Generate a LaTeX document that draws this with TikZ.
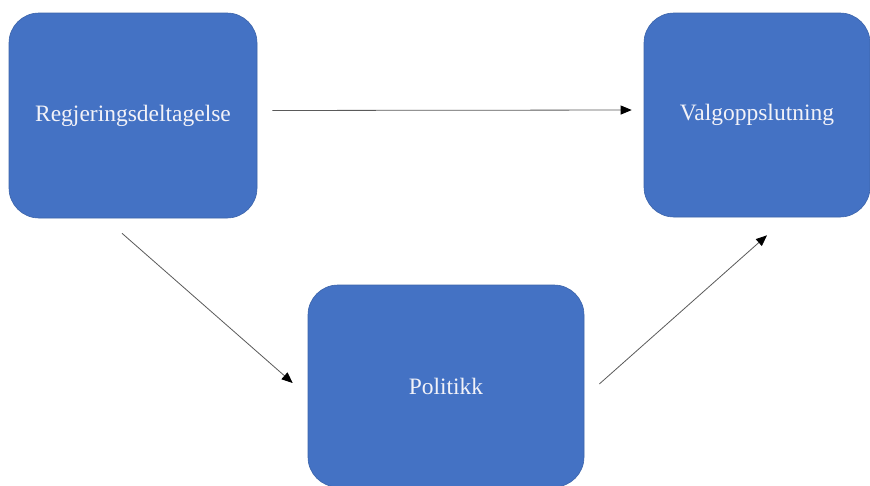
\documentclass[tikz,border=0pt]{standalone}
\usepackage{fontspec}
\setmainfont{Liberation Serif}
\usetikzlibrary{arrows.meta}

\definecolor{boxblue}{RGB}{68,114,196}
\definecolor{boxline}{RGB}{60,100,170}
\definecolor{boxtext}{RGB}{242,242,248}
\definecolor{arrowgray}{RGB}{90,90,90}

\begin{document}
\begin{tikzpicture}[x=1pt,y=-1pt,
  blokk/.style={draw=boxline,line width=0.6pt,fill=boxblue,rounded corners=30pt,
    text=boxtext,font=\fontsize{23.5}{28}\selectfont,inner sep=0pt},
  pil/.style={draw=arrowgray,line width=0.8pt,-{Triangle[black,length=11pt,width=9pt]}}]
\useasboundingbox[fill=white] (0,0) rectangle (870,485);
% boksene
\node[blokk,minimum width=248pt,minimum height=205pt] (reg) at (133,115.5) {Regjeringsdeltagelse};
\node[blokk,minimum width=226pt,minimum height=204pt] (valg) at (757,115) {Valgoppslutning};
\node[blokk,minimum width=276pt,minimum height=202pt] (pol) at (446,386) {Politikk};
% pilene
\draw[pil,shorten <=15pt,shorten >=12pt] ([yshift=5pt]reg.east) -- ([yshift=5pt]valg.west);
\draw[pil] ([shift={(-11pt,-15pt)}]reg.south) -- ([shift={(-15pt,3pt)}]pol.west);
\draw[pil] ([shift={(15pt,2pt)}]pol.east) -- ([shift={(10pt,-18pt)}]valg.south);
\end{tikzpicture}
\end{document}
